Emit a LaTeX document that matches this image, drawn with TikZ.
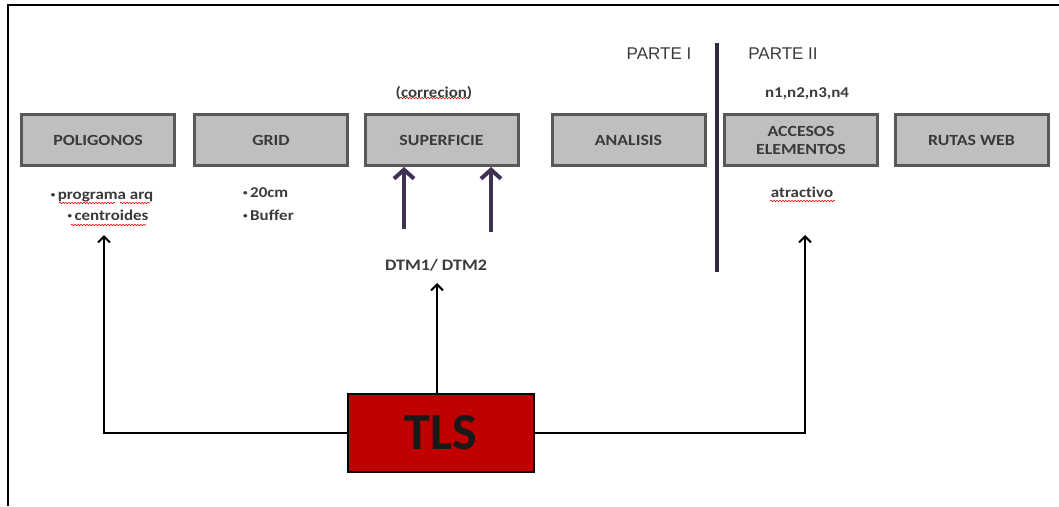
\documentclass[tikz,border=0pt]{standalone}
\usepackage{fontspec}
\setmainfont{Carlito}[FakeStretch=1.13, Ligatures=NoCommon]
\newfontfamily\cajafont{Carlito}[FakeStretch=1.15, Ligatures=NoCommon]
\newfontfamily\tlsfont{Carlito}
\newfontfamily\partefont{Liberation Sans}
\definecolor{caja}{HTML}{BFBFBF}
\definecolor{borde}{HTML}{595959}
\definecolor{texto}{HTML}{3A3A3A}
\definecolor{morado}{HTML}{3F3151}
\definecolor{tls}{HTML}{C00000}
\usetikzlibrary{arrows.meta, positioning, decorations.pathmorphing}

\newcommand{\punto}{\raisebox{1.5pt}{\fontsize{8}{8}\selectfont•}\,}

\tikzset{
  paso/.style={draw=borde, fill=caja, line width=3pt, minimum width=153pt, minimum height=51pt,
    align=center, text=texto, font=\cajafont\bfseries\fontsize{15.5}{19}\selectfont},
  nota/.style={anchor=base, inner sep=0pt, text=texto, font=\bfseries\fontsize{15}{18}\selectfont},
  parte/.style={anchor=base, inner sep=0pt, text=texto, font=\partefont\fontsize{17}{20}\selectfont},
  flecha/.style={draw=black, line width=2pt, -{Straight Barb[length=6pt,width=12pt]}},
  dtmflecha/.style={draw=morado, line width=4pt, -{Straight Barb[length=9pt,width=20pt]}},
  spell/.style={draw=red!85!black, line width=0.6pt, decorate,
    decoration={snake, amplitude=0.7pt, segment length=3pt}}
}

\begin{document}
\begin{tikzpicture}[x=1pt, y=-1pt]
  \useasboundingbox (0,0) rectangle (1059,506);
  % marco
  \draw[line width=2.5pt] (8,506) -- (8,5) -- (1059,5);

  % pasos
  \node[paso] (poli) at (98,140) {POLIGONOS};
  \node[paso] (grid) at (271,140) {GRID};
  \node[paso] (sup) at (441.5,140) {SUPERFICIE};
  \node[paso] (anal) at (628.5,140) {ANALISIS};
  \node[paso] (acc) at (801,140) {ACCESOS\\[-1pt]ELEMENTOS};
  \node[paso] (rutas) at (971.5,140) {RUTAS WEB};

  % partes
  \node[parte] (p1) at (659,59) {PARTE I};
  \node[parte] (p2) at (783,59) {PARTE II};
  \draw[draw=morado!80!black, line width=3.5pt] (717,43) -- (717,272);

  % notas
  \node[nota] (poli1) at (102,199) {\punto programa arq};
  \node[nota] (poli2) at (108,220) {\punto centroides};
  \node[nota, anchor=base west] (grid1) at (243,197) {\punto 20cm};
  \node[nota, anchor=base west] (grid2) at (243,220) {\punto Buffer};
  \node[nota] (corr) at (434,97) {(correcion)};
  \node[nota] (enes) at (807,97) {n1,n2,n3,n4};
  \node[nota] (atr) at (802,197) {atractivo};
  \node[nota, font=\bfseries\fontsize{16}{18}\selectfont] (dtm) at (436,270) {DTM1/ DTM2};

  % subrayado
  \draw[spell] (59,203) -- (115,203);
  \draw[spell] (120,203) -- (150,203);
  \draw[spell] (71,225) -- (146,225);
  \draw[spell] (400,98) -- (468,98);
  \draw[spell] (770,201) -- (835,201);

  % TLS
  \node[draw=black, fill=tls, line width=2pt, minimum width=186pt, minimum height=78pt,
    font=\tlsfont\bfseries\fontsize{52}{60}\selectfont, text=black!90] (tls) at (441,433) {TLS};

  \coordinate (d1) at (404,229);
  \coordinate (d2) at (491,232);
  \draw[dtmflecha] (d1) -- (d1 |- sup.south);
  \draw[dtmflecha] (d2) -- (d2 |- sup.south);

  \coordinate (pa) at (104,235);
  \coordinate (da) at (437,283);
  \coordinate (aa) at (805,235);
  \draw[flecha] (tls.west) -| (pa);
  \draw[flecha] (tls.north -| da) -- (da);
  \draw[flecha] (tls.east) -| (aa);
\end{tikzpicture}
\end{document}
